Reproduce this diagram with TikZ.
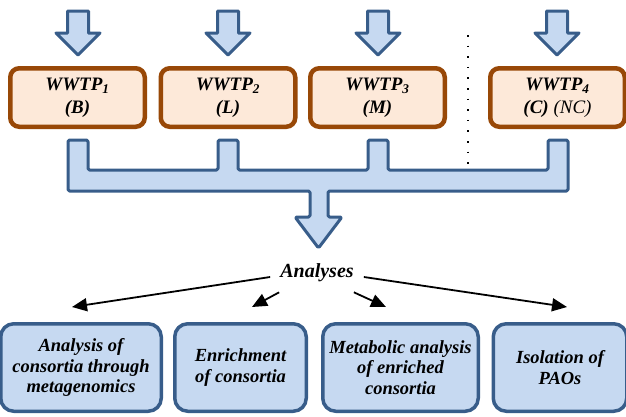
\documentclass[tikz,border=0pt]{standalone}
\usepackage{fontspec}
\setmainfont{Liberation Serif}
\usepackage{tikz}
\definecolor{wwbrown}{RGB}{152,72,7}
\definecolor{wwfill}{RGB}{253,233,217}
\definecolor{anblue}{RGB}{56,93,138}
\definecolor{anfill}{RGB}{198,217,241}
\usetikzlibrary{arrows.meta}

\begin{document}
\begin{tikzpicture}
		[x=1pt,y=-1pt,
		plant/.style={rectangle, rounded corners=9pt, draw=wwbrown, fill=wwfill, line width=4.5pt, minimum width=134.5pt, minimum height=58.5pt, inner sep=0pt, align=center, font=\fontsize{19}{23}\selectfont\bfseries\itshape},
		task/.style={rectangle, rounded corners=13pt, draw=anblue, fill=anfill, line width=3.5pt, minimum height=87.5pt, inner sep=0pt, align=center, font=\fontsize{18.5}{20.5}\selectfont\bfseries\itshape},
		flow/.style={draw=anblue, fill=anfill, line width=3pt, line join=round},
		link/.style={line width=1.8pt, -{Triangle[length=15pt,width=13pt]}}]
		\useasboundingbox (0,0) rectangle (626,416);
		\foreach \x in {78,228,378,557}
			\draw [flow] (\x-10.5,11) -- (\x+10.5,11) -- (\x+10.5,33) -- (\x+22,33) -- (\x,55) -- (\x-22,33) -- (\x-10.5,33) -- cycle;
		\node (w1) [plant] at (77.5, 97.5) {WWTP\textsubscript{1}\\(B)};
		\node (w2) [plant] at (228, 97.5) {WWTP\textsubscript{2}\\(L)};
		\node (w3) [plant] at (377.5, 97.5) {WWTP\textsubscript{3}\\(M)};
		\node (w4) [plant] at (557.5, 97.5) {WWTP\textsubscript{4}\\(C) {\mdseries(NC)}};
		\draw [line width=1.6pt, dash pattern=on 1.6pt off 9pt] (468,35) -- (468,165);
		\draw [flow, rounded corners=1.5pt] (68,140) -- (88,140) -- (88,170) -- (218,170) -- (218,140) -- (238,140) -- (238,170) -- (368,170) -- (368,140) -- (388,140) -- (388,170) -- (548,170) -- (548,140) -- (568,140) -- (568,191) -- (328,191) -- (328,217) -- (342,217) -- (318.5,248) -- (295,217) -- (310,217) -- (310,191) -- (68,191) -- cycle;
		\node (an) [inner sep=10pt, font=\fontsize{20}{23}\selectfont\bfseries\itshape] at (317,273) {Analyses};
		\node (b1) [task, minimum width=160.5pt] at (81, 367.5) {Analysis of\\consortia through\\metagenomics};
		\node (b2) [task, minimum width=131.5pt] at (240.5, 367.5) {Enrichment\\of consortia};
		\node (b3) [task, minimum width=155.5pt] at (400.5, 367.5) {Metabolic analysis\\of enriched\\consortia};
		\node (b4) [task, minimum width=133.5pt] at (560, 367.5) {Isolation of\\PAOs};
		\coordinate (t1) at (72,307);
		\coordinate (t2) at (252,307);
		\coordinate (t3) at (386,307);
		\coordinate (t4) at (567,307);
		\draw [link] ([yshift=-4pt]an.west) -- (t1);
		\draw [link] ([xshift=9pt]an.south west) -- (t2);
		\draw [link] ([xshift=-10pt]an.south east) -- (t3);
		\draw [link] ([yshift=-4pt]an.east) -- (t4);
\end{tikzpicture}
\end{document}
